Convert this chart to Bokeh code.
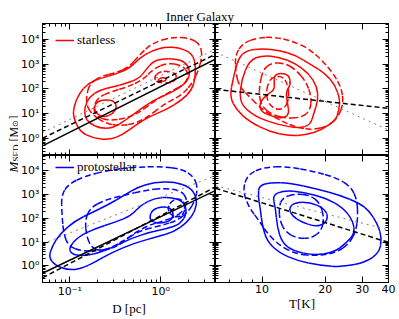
import numpy as np
from bokeh.plotting import figure
from bokeh.layouts import row, column
from bokeh.models import Range1d, FixedTicker, LogAxis, Label, Legend, LegendItem
from bokeh.embed import file_html
from bokeh.resources import INLINE

# ---------------- axis limits and ticks ----------------
D_LIM = [0.05, 4.0]
T_LIM = [6.0, 40.0]
M_LIM = [10 ** -0.7, 10 ** 4.65]
M_TICKS = [1, 10, 100, 1000, 10000]
M_TICK_LABELS = ["10⁰", "10¹", "10²", "10³", "10⁴"]
D_TICKS = [0.1, 1]
D_TICK_LABELS = ["10⁻¹", "10⁰"]
T_TICKS = [10, 20, 30, 40]
T_TICK_LABELS = ["10", "20", "30", "40"]
T_MINOR = [6, 7, 8, 9]

TITLE = "Inner Galaxy"
LABEL_STARLESS = "starless"
LABEL_PROTO = "protostellar"

# ---------------- fitted relations: log10 M = a + b * log10 X  -> (a, b) ----------------
SL_D_FIT_SOLID = (2.091, 1.847)
SL_D_FIT_DASH = (2.326, 1.789)
SL_D_FIT_DOT = (2.536, 1.774)
SL_T_FIT_DASH = (2.707, -0.934)
SL_T_FIT_DOT = (6.469, -3.829)
PS_D_FIT_SOLID = (2.071, 1.832)
PS_D_FIT_DASH = (2.114, 2.011)
PS_D_FIT_DOT = (2.895, 1.508)
PS_T_FIT_DASH = (5.423, -2.767)
PS_T_FIT_DOT = (5.136, -2.257)

# ---------------- density contours: (log10 X, log10 M) ----------------
# starless, M vs D
sl_D_solid_1 = [(-0.964, 0.874), (-0.891, 0.269), (-0.746, 0.0), (-0.565, -0.067), (-0.420, 0.134),
                (-0.275, 0.538), (-0.130, 0.874), (0.051, 1.142), (0.232, 1.546), (0.341, 1.949),
                (0.384, 2.487), (0.377, 3.159), (0.322, 3.495), (0.196, 3.669), (0.051, 3.696),
                (-0.094, 3.562), (-0.239, 3.226), (-0.348, 2.823), (-0.529, 2.554), (-0.674, 2.419),
                (-0.801, 2.218), (-0.899, 1.815), (-0.957, 1.277)]
sl_D_solid_2 = [(-0.837, 0.874), (-0.783, 0.605), (-0.674, 0.403), (-0.529, 0.403), (-0.384, 0.739),
                (-0.239, 1.142), (-0.076, 1.546), (0.051, 1.747), (0.196, 2.016), (0.304, 2.352),
                (0.322, 2.755), (0.268, 3.091), (0.159, 3.226), (0.014, 3.226), (-0.094, 3.091),
                (-0.167, 2.755), (-0.239, 2.419), (-0.384, 2.218), (-0.529, 2.083), (-0.674, 1.949),
                (-0.783, 1.680), (-0.837, 1.277)]
sl_D_solid_3 = [(-0.736, 1.250), (-0.703, 1.478), (-0.609, 1.573), (-0.511, 1.505), (-0.482, 1.277),
                (-0.522, 1.008), (-0.620, 0.847), (-0.703, 0.968)]
sl_D_solid_4 = [(-0.033, 2.366), (0.007, 2.460), (0.065, 2.433), (0.051, 2.312), (-0.007, 2.298)]
sl_D_dash_1 = [(-0.819, 1.680), (-0.783, 2.218), (-0.656, 2.513), (-0.493, 2.648), (-0.348, 2.890),
               (-0.239, 3.360), (-0.094, 3.858), (0.123, 4.099), (0.322, 4.059), (0.431, 3.804),
               (0.457, 3.360), (0.420, 2.823), (0.359, 2.285), (0.232, 1.747), (0.051, 1.411),
               (-0.130, 0.900), (-0.275, 0.600), (-0.457, 0.500), (-0.620, 0.620), (-0.746, 0.941),
               (-0.812, 1.277)]
sl_D_dash_2 = [(-0.746, 1.210), (-0.692, 1.653), (-0.547, 1.882), (-0.366, 2.083), (-0.203, 2.352),
               (-0.076, 2.823), (0.069, 3.051), (0.232, 2.957), (0.312, 2.621), (0.268, 2.191),
               (0.123, 1.922), (-0.058, 1.546), (-0.221, 1.075), (-0.384, 0.806), (-0.565, 0.712),
               (-0.703, 0.874)]
sl_D_dash_3 = [(-0.076, 2.460), (-0.022, 2.688), (0.087, 2.728), (0.178, 2.594), (0.159, 2.325),
               (0.069, 2.218), (-0.040, 2.272)]

# starless, M vs T
sl_T_solid_1 = [(0.846, 1.680), (0.862, 2.419), (0.886, 3.226), (0.925, 3.562), (1.003, 3.629),
                (1.082, 3.562), (1.160, 3.360), (1.238, 2.957), (1.301, 2.621), (1.348, 2.151),
                (1.372, 1.546), (1.364, 1.075), (1.351, 0.739), (1.285, 0.336), (1.207, 0.134),
                (1.129, 0.094), (1.034, 0.269), (0.940, 0.672), (0.878, 1.142)]
sl_T_solid_2 = [(0.893, 1.546), (0.901, 2.352), (0.940, 3.159), (1.003, 3.360), (1.082, 3.293),
                (1.160, 3.024), (1.223, 2.621), (1.262, 2.083), (1.267, 1.546), (1.246, 1.008),
                (1.230, 0.538), (1.176, 0.403), (1.082, 0.538), (0.987, 0.806), (0.925, 1.142)]
sl_T_solid_3 = [(1.058, 2.554), (1.089, 2.648), (1.129, 2.554), (1.136, 2.151), (1.113, 1.882),
                (1.121, 1.411), (1.129, 1.008), (1.105, 0.806), (1.050, 0.874), (0.995, 1.075),
                (0.987, 1.411), (1.019, 1.747), (1.058, 1.949), (1.058, 2.218)]
sl_T_dash_1 = [(0.875, 2.621), (0.871, 3.360), (0.909, 3.858), (0.980, 4.073), (1.058, 4.099),
               (1.144, 3.938), (1.223, 3.629), (1.285, 3.159), (1.340, 2.621), (1.379, 2.016),
               (1.387, 1.411), (1.364, 0.874), (1.317, 0.497), (1.238, 0.336), (1.160, 0.444),
               (1.082, 0.739), (1.003, 1.142), (0.940, 1.680), (0.893, 2.083)]
sl_T_dash_2 = [(0.987, 2.083), (1.003, 2.755), (1.042, 3.051), (1.105, 3.051), (1.160, 2.782),
               (1.210, 2.285), (1.235, 1.680), (1.230, 1.142), (1.191, 0.847), (1.121, 0.806),
               (1.050, 0.941), (1.000, 1.277), (0.987, 1.680)]
sl_T_dash_3 = [(1.027, 2.218), (1.050, 2.487), (1.097, 2.513), (1.121, 2.218), (1.129, 1.680),
               (1.113, 1.250), (1.074, 1.142), (1.034, 1.344), (1.019, 1.747)]

# protostellar, M vs D
ps_D_solid_1 = [(-1.196, 0.826), (-1.105, 1.364), (-0.942, 1.902), (-0.761, 2.238), (-0.580, 2.574),
                (-0.399, 2.977), (-0.254, 3.313), (-0.072, 3.515), (0.145, 3.542), (0.326, 3.313),
                (0.399, 2.843), (0.380, 2.305), (0.290, 1.835), (0.145, 1.431), (-0.036, 1.230),
                (-0.290, 0.961), (-0.543, 0.558), (-0.725, 0.155), (-0.870, -0.114), (-1.014, -0.181),
                (-1.159, 0.020), (-1.232, 0.356)]
ps_D_solid_2 = [(-1.014, 0.759), (-0.906, 1.230), (-0.725, 1.566), (-0.507, 1.835), (-0.326, 2.103),
                (-0.217, 2.574), (-0.072, 2.843), (0.109, 2.910), (0.254, 2.708), (0.290, 2.238),
                (0.217, 1.767), (0.072, 1.566), (-0.109, 1.431), (-0.326, 1.163), (-0.543, 0.759),
                (-0.725, 0.490), (-0.870, 0.423), (-0.978, 0.490)]
ps_D_solid_3 = [(-0.127, 2.036), (-0.091, 2.372), (0.018, 2.507), (0.109, 2.440), (0.145, 2.171),
                (0.109, 1.902), (0.000, 1.794), (-0.091, 1.835)]
ps_D_dash_1 = [(-1.094, 2.977), (-1.014, 3.448), (-0.833, 3.784), (-0.580, 4.026), (-0.290, 4.160),
               (0.000, 4.187), (0.236, 4.079), (0.362, 3.757), (0.406, 3.313), (0.380, 2.776),
               (0.308, 2.305), (0.181, 1.902), (0.000, 1.700), (-0.217, 1.499), (-0.399, 1.095),
               (-0.543, 0.759), (-0.688, 0.625), (-0.870, 0.625), (-1.014, 0.826), (-1.069, 1.364),
               (-1.087, 2.171)]
ps_D_dash_2 = [(-0.815, 1.230), (-0.833, 1.902), (-0.779, 2.440), (-0.616, 2.776), (-0.399, 2.977),
               (-0.181, 3.179), (0.036, 3.272), (0.217, 3.179), (0.290, 2.843), (0.272, 2.440),
               (0.181, 2.103), (0.036, 1.902), (-0.145, 1.700), (-0.326, 1.297), (-0.471, 0.826),
               (-0.652, 0.625), (-0.761, 0.759)]
ps_D_dash_3 = [(0.072, 2.440), (0.127, 2.776), (0.217, 2.843), (0.272, 2.574), (0.254, 2.171),
               (0.181, 2.036), (0.109, 2.144)]

# protostellar, M vs T
ps_T_solid_1 = [(0.986, 3.380), (1.041, 3.515), (1.135, 3.488), (1.260, 3.246), (1.370, 2.977),
                (1.464, 2.641), (1.511, 2.305), (1.550, 1.767), (1.571, 1.163), (1.558, 0.558),
                (1.495, 0.155), (1.386, -0.047), (1.276, 0.020), (1.166, 0.222), (1.080, 0.558),
                (1.025, 1.028), (1.002, 1.633), (0.991, 2.440), (0.981, 2.977)]
ps_T_solid_2 = [(1.049, 2.977), (1.103, 3.179), (1.198, 3.112), (1.307, 2.843), (1.386, 2.440),
                (1.433, 1.902), (1.441, 1.364), (1.401, 0.961), (1.339, 0.558), (1.245, 0.450),
                (1.151, 0.625), (1.096, 0.961), (1.072, 1.633), (1.064, 2.440)]
ps_T_solid_3 = [(1.127, 2.440), (1.158, 2.682), (1.229, 2.682), (1.292, 2.440), (1.315, 2.103),
                (1.299, 1.767), (1.252, 1.660), (1.190, 1.835), (1.143, 2.103)]
ps_T_dash_1 = [(0.907, 3.179), (0.931, 3.851), (1.009, 4.160), (1.119, 4.187), (1.245, 3.985),
               (1.354, 3.716), (1.425, 3.313), (1.452, 2.776), (1.456, 2.103), (1.448, 1.499),
               (1.417, 0.961), (1.354, 0.558), (1.260, 0.423), (1.166, 0.490), (1.088, 0.826),
               (1.025, 1.364), (0.986, 1.902), (0.939, 2.440)]
ps_T_dash_2 = [(1.080, 2.440), (1.096, 2.870), (1.158, 3.045), (1.229, 2.978), (1.276, 2.641),
               (1.295, 2.036), (1.284, 1.499), (1.237, 1.163), (1.166, 1.163), (1.111, 1.432),
               (1.085, 1.902)]

RED = "#ff0000"
BLUE = "#0000ff"
SERIF = "Liberation Serif"
SANS = "DejaVu Sans"

YT_W = 18          # strip holding the vertical axis title
TITLE_H = 23       # strip holding the title
FRAME_WL = 175
FRAME_WR = 173
FRAME_H = 132
LEFT_B = 22
RIGHT_B = 10
BOTTOM_B = 31


def log_minor(lo, hi, majors):
    out = []
    for k in range(-3, 6):
        for m in range(1, 10):
            v = m * 10.0 ** k
            if lo <= v <= hi and not any(abs(v - t) < 1e-9 * max(1, t) for t in majors):
                out.append(v)
    return out


def conf_axis(ax, ticks, minor, labels=None):
    ax.ticker = FixedTicker(ticks=list(ticks), minor_ticks=list(minor))
    ax.major_tick_in = 6
    ax.major_tick_out = 0
    ax.minor_tick_in = 3
    ax.minor_tick_out = 0
    ax.axis_line_color = "black"
    ax.major_tick_line_color = "black"
    ax.minor_tick_line_color = "black"
    if labels is not None:
        ax.major_label_overrides = {t: l for t, l in zip(ticks, labels)}
        ax.major_label_text_font = SANS
        ax.major_label_text_font_size = "11px"
        ax.major_label_text_color = "black"
        ax.major_label_standoff = 3
    else:
        # tick marks only, no tick labels on this side
        ax.major_label_overrides = {t: "" for t in ticks}
        ax.major_label_text_font_size = "1px"
        ax.major_label_text_color = None
        ax.major_label_standoff = 0


def panel(xlim, xticks, xminor, xlabels, left, bottom, xtitle=None):
    w = (FRAME_WL + LEFT_B) if left else (FRAME_WR + RIGHT_B)
    h = FRAME_H + (BOTTOM_B if bottom else 0)
    p = figure(width=w, height=h, x_axis_type="log", y_axis_type="log",
               x_range=Range1d(*xlim), y_range=Range1d(*M_LIM),
               output_backend="svg", toolbar_location=None, min_border=0,
               min_border_left=LEFT_B if left else 0,
               min_border_right=0 if left else RIGHT_B,
               min_border_top=0, min_border_bottom=BOTTOM_B if bottom else 0)
    p.xgrid.visible = False
    p.ygrid.visible = False
    p.outline_line_color = "black"
    p.background_fill_color = "white"
    p.border_fill_color = "white"
    m_minor = log_minor(M_LIM[0], M_LIM[1], M_TICKS)
    lax = p.left[0]
    bax = p.below[0]
    conf_axis(lax, M_TICKS, m_minor, M_TICK_LABELS if left else None)
    conf_axis(bax, xticks, xminor, xlabels if bottom else None)
    ra = LogAxis()
    conf_axis(ra, M_TICKS, m_minor, None)
    p.add_layout(ra, "right")
    ta = LogAxis()
    conf_axis(ta, xticks, xminor, None)
    p.add_layout(ta, "above")
    if xtitle:
        bax.axis_label = xtitle
        bax.axis_label_text_font = SERIF
        bax.axis_label_text_font_style = "normal"
        bax.axis_label_text_font_size = "13px"
        bax.axis_label_text_color = "black"
        bax.axis_label_standoff = 0
        bax.major_label_standoff = 2
    return p


def contour(p, pts, color, dash):
    a = np.array(pts, dtype=float)
    lx, ly = a[:, 0], a[:, 1]
    mx = (lx + np.roll(lx, -1)) / 2
    my = (ly + np.roll(ly, -1)) / 2
    return p.quadratic(x0=10 ** np.roll(mx, 1), y0=10 ** np.roll(my, 1),
                       x1=10 ** mx, y1=10 ** my, cx=10 ** lx, cy=10 ** ly,
                       line_color=color, line_width=1.5, line_dash=dash)


def fit_line(p, xlim, fit, color, dash, width):
    a, b = fit
    xs = np.array(xlim, dtype=float)
    ys = 10 ** (a + b * np.log10(xs))
    p.line(xs, ys, line_color=color, line_dash=dash, line_width=width)


DASH = "6 3"
D_MINOR = log_minor(D_LIM[0], D_LIM[1], D_TICKS)

tl = panel(D_LIM, D_TICKS, D_MINOR, D_TICK_LABELS, True, False)
tr = panel(T_LIM, T_TICKS, T_MINOR, T_TICK_LABELS, False, False)
bl = panel(D_LIM, D_TICKS, D_MINOR, D_TICK_LABELS, True, True, "D [pc]")
br = panel(T_LIM, T_TICKS, T_MINOR, T_TICK_LABELS, False, True, "T[K]")

# starless
for c in (sl_D_solid_1, sl_D_solid_2, sl_D_solid_3, sl_D_solid_4):
    contour(tl, c, RED, "solid")
for c in (sl_D_dash_1, sl_D_dash_2, sl_D_dash_3):
    contour(tl, c, RED, DASH)
for c in (sl_T_solid_1, sl_T_solid_2, sl_T_solid_3):
    contour(tr, c, RED, "solid")
for c in (sl_T_dash_1, sl_T_dash_2, sl_T_dash_3):
    contour(tr, c, RED, DASH)

# protostellar
for c in (ps_D_solid_1, ps_D_solid_2, ps_D_solid_3):
    contour(bl, c, BLUE, "solid")
for c in (ps_D_dash_1, ps_D_dash_2, ps_D_dash_3):
    contour(bl, c, BLUE, DASH)
for c in (ps_T_solid_1, ps_T_solid_2, ps_T_solid_3):
    contour(br, c, BLUE, "solid")
for c in (ps_T_dash_1, ps_T_dash_2):
    contour(br, c, BLUE, DASH)

# fitted relations
fit_line(tl, D_LIM, SL_D_FIT_DOT, "#808080", "dotted", 1)
fit_line(tl, D_LIM, SL_D_FIT_DASH, "black", "5 3", 1.5)
fit_line(tl, D_LIM, SL_D_FIT_SOLID, "black", "solid", 1.5)
fit_line(tr, T_LIM, SL_T_FIT_DOT, "#808080", "dotted", 1)
fit_line(tr, T_LIM, SL_T_FIT_DASH, "black", "5 3", 1.5)
fit_line(bl, D_LIM, PS_D_FIT_DOT, "#808080", "dotted", 1)
fit_line(bl, D_LIM, PS_D_FIT_DASH, "black", "5 3", 1.5)
fit_line(bl, D_LIM, PS_D_FIT_SOLID, "black", "solid", 1.5)
fit_line(br, T_LIM, PS_T_FIT_DOT, "#808080", "dotted", 1)
fit_line(br, T_LIM, PS_T_FIT_DASH, "black", "5 3", 1.5)

# legends (line-style key for each sample)
for p, col, lab in ((tl, RED, LABEL_STARLESS), (bl, BLUE, LABEL_PROTO)):
    key = p.line(x=[np.nan], y=[np.nan], line_color=col, line_width=1.5)
    leg = Legend(items=[LegendItem(label=lab, renderers=[key])], location=(13, FRAME_H - 25),
                 margin=0, padding=0, glyph_width=19, glyph_height=12, label_standoff=3,
                 border_line_alpha=0, background_fill_alpha=0,
                 label_text_font=SERIF, label_text_font_size="13px", label_text_color="black")
    p.add_layout(leg)

# title strip
TOTAL_W = YT_W + LEFT_B + FRAME_WL + FRAME_WR + RIGHT_B
title_fig = figure(width=TOTAL_W - YT_W, height=TITLE_H, x_range=Range1d(0, 1), y_range=Range1d(0, 1),
                   x_axis_location=None, y_axis_location=None, output_backend="svg",
                   toolbar_location=None, min_border=0, outline_line_color=None)
title_fig.grid.visible = False
title_fig.add_layout(Label(x=199.5 - YT_W, y=7, x_units="screen", y_units="screen",
                           text=TITLE, text_align="center", text_baseline="alphabetic",
                           text_font=SERIF, text_font_size="13px", text_color="black"))

# y-axis title strip
TOTAL_H = TITLE_H + 2 * FRAME_H + BOTTOM_B
ytitle_fig = figure(width=YT_W, height=TOTAL_H, x_range=Range1d(0, 1),
                    y_range=Range1d(0, 1), x_axis_location=None, y_axis_location=None,
                    output_backend="svg", toolbar_location=None, min_border=0,
                    outline_line_color=None)
ytitle_fig.grid.visible = False
ang = np.pi / 2
parts = [("M", 146, 13, "13px", "italic"), ("SED", 157, 15.3, "9px", "normal"),
         ("[M", 177, 13, "12px", "normal"), ("⊙", 192, 15.3, "8px", "normal"),
         ("]", 199, 13, "12px", "normal")]
for txt, sy, sx, fs, st in parts:
    ytitle_fig.add_layout(Label(x=sx, y=sy, x_units="screen", y_units="screen", text=txt,
                                angle=ang, text_align="left", text_baseline="alphabetic",
                                text_font=SERIF, text_font_size=fs, text_font_style=st,
                                text_color="black"))

layout = row(ytitle_fig, column(title_fig, row(tl, tr), row(bl, br)))

open("out.html", "w").write(file_html(layout, INLINE))
